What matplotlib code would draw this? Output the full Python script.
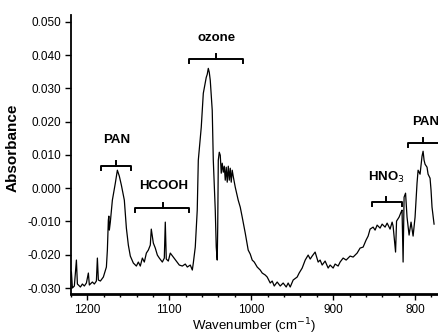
import numpy as np
import matplotlib
matplotlib.use("Agg")
import matplotlib.pyplot as plt
from matplotlib.ticker import MultipleLocator

plt.rcParams['font.family'] = ['Liberation Sans Narrow', 'Liberation Sans', 'DejaVu Sans']

# FTIR spectrum (wavenumber cm-1, absorbance)
wavenumber = [
    1219.5, 1218.3, 1215.9, 1213.4, 1212.2, 1208.5, 1206.1, 1203.7, 1201.2, 1198.8,
    1197.6, 1193.9, 1191.5, 1189.0, 1187.8, 1186.6, 1184.1, 1180.5, 1176.8, 1175.6,
    1174.4, 1173.8, 1173.2, 1172.0, 1169.5, 1165.9, 1163.4, 1161.0, 1158.5, 1154.9,
    1152.4, 1150.0, 1147.6, 1143.9, 1140.2, 1137.8, 1135.4, 1132.9, 1130.5, 1128.0,
    1125.6, 1123.2, 1122.0, 1119.5, 1117.1, 1114.6, 1112.2, 1108.5, 1106.1, 1104.9,
    1103.7, 1101.2, 1098.8, 1095.1, 1091.5, 1087.8, 1084.1, 1080.5, 1078.0, 1074.4,
    1071.9, 1070.7, 1068.3, 1065.9, 1064.6, 1061.0, 1058.5, 1054.9, 1053.7, 1052.4,
    1051.2, 1050.0, 1047.6, 1046.3, 1043.9, 1042.7, 1041.5, 1040.9, 1040.2, 1039.0,
    1037.8, 1036.6, 1035.4, 1034.1, 1032.9, 1031.7, 1030.5, 1029.3, 1028.0, 1026.8,
    1025.6, 1024.4, 1023.2, 1022.0, 1019.5, 1015.9, 1013.4, 1011.0, 1007.3, 1003.7,
    1001.2, 998.8, 996.3, 992.7, 989.0, 986.6, 982.9, 980.5, 976.8, 974.4,
    971.9, 968.3, 964.6, 961.0, 957.3, 954.9, 952.4, 948.8, 943.9, 941.5,
    937.8, 934.1, 930.5, 928.0, 925.6, 922.0, 918.3, 915.9, 913.4, 909.8,
    906.1, 903.7, 900.0, 897.6, 893.9, 891.5, 887.8, 884.1, 879.3, 875.6,
    870.7, 867.1, 863.4, 859.8, 857.3, 854.9, 851.2, 848.8, 846.3, 842.7,
    840.2, 836.6, 834.1, 830.5, 828.0, 826.8, 823.8, 822.6, 819.5, 817.1,
    815.9, 814.6, 813.4, 811.6, 809.8, 807.3, 804.9, 802.4, 800.0, 797.6,
    796.3, 793.9, 791.5, 790.2, 789.0, 787.8, 785.4, 784.1, 781.7, 780.5,
    779.3, 776.8,
]
absorbance = [
    -0.0252, -0.0300, -0.0294, -0.0216, -0.0288, -0.0297, -0.0288, -0.0294, -0.0285, -0.0255,
    -0.0291, -0.0282, -0.0288, -0.0279, -0.0210, -0.0276, -0.0279, -0.0267, -0.0237, -0.0186,
    -0.0096, -0.0084, -0.0126, -0.0102, -0.0036, 0.0015, 0.0054, 0.0036, 0.0009, -0.0036,
    -0.0120, -0.0171, -0.0204, -0.0225, -0.0234, -0.0222, -0.0234, -0.0210, -0.0222, -0.0195,
    -0.0186, -0.0171, -0.0123, -0.0165, -0.0180, -0.0201, -0.0210, -0.0222, -0.0210, -0.0102,
    -0.0213, -0.0219, -0.0195, -0.0207, -0.0219, -0.0231, -0.0234, -0.0228, -0.0237, -0.0231,
    -0.0246, -0.0225, -0.0177, -0.0066, 0.0084, 0.0183, 0.0285, 0.0333, 0.0342, 0.0360,
    0.0348, 0.0324, 0.0234, 0.0084, -0.0066, -0.0177, -0.0216, -0.0117, 0.0084, 0.0108,
    0.0099, 0.0045, 0.0075, 0.0048, 0.0066, 0.0024, 0.0063, 0.0018, 0.0066, 0.0024,
    0.0060, 0.0018, 0.0054, 0.0036, 0.0003, -0.0036, -0.0057, -0.0087, -0.0135, -0.0186,
    -0.0198, -0.0216, -0.0222, -0.0237, -0.0246, -0.0255, -0.0261, -0.0267, -0.0285, -0.0279,
    -0.0294, -0.0282, -0.0294, -0.0285, -0.0297, -0.0285, -0.0297, -0.0276, -0.0267, -0.0255,
    -0.0240, -0.0216, -0.0201, -0.0213, -0.0204, -0.0192, -0.0222, -0.0216, -0.0231, -0.0219,
    -0.0240, -0.0231, -0.0240, -0.0228, -0.0234, -0.0222, -0.0210, -0.0216, -0.0204, -0.0207,
    -0.0195, -0.0180, -0.0177, -0.0156, -0.0144, -0.0123, -0.0117, -0.0126, -0.0111, -0.0120,
    -0.0108, -0.0117, -0.0105, -0.0123, -0.0102, -0.0114, -0.0192, -0.0099, -0.0087, -0.0072,
    -0.0066, -0.0222, -0.0027, -0.0015, -0.0087, -0.0141, -0.0102, -0.0144, -0.0087, 0.0015,
    0.0054, 0.0042, 0.0096, 0.0111, 0.0084, 0.0072, 0.0063, 0.0042, 0.0030, -0.0006,
    -0.0057, -0.0108,
]

# band assignments: label, bracket left/right, bracket level, label position
band_labels = ['PAN', 'HCOOH', 'ozone', r'HNO$_3$', 'PAN']
band_left = [1182.9, 1141.5, 1075.6, 852.4, 808.5]
band_right = [1146.3, 1075.6, 1009.8, 815.9, 766.0]
band_level = [0.0066, -0.0060, 0.0387, -0.0042, 0.0135]
band_text_y = [0.0144, 0.0006, 0.0450, 0.0033, 0.0198]
band_text_x = [1164.6, 1107.3, 1042.7, 835.4, 787.5]
band_tick_x = [1164.6, 1107.3, 1042.7, 835.4, 790.2]

fig = plt.figure(figsize=(4.38, 3.36), dpi=100)
ax = fig.add_axes([0.1621, 0.125, 0.8379, 0.830])

ax.plot(wavenumber, absorbance, color='black', lw=0.9)

for lab, x0, x1, yb, yt, xc, xt in zip(band_labels, band_left, band_right,
                                        band_level, band_text_y, band_text_x,
                                        band_tick_x):
    drop = 0.0012
    ax.plot([x0, x0, x1, x1], [yb - drop, yb, yb, yb - drop],
            color='black', lw=1.4, clip_on=False)
    ax.plot([xt, xt], [yb, yb + 0.0016], color='black', lw=1.4, clip_on=False)
    ax.text(xc, yt, lab, ha='center', va='center', fontsize=9.5,
            fontweight='bold', clip_on=False)

ax.set_xlim(1220, 772)
ax.set_ylim(-0.0318, 0.052)
ax.xaxis.set_major_locator(MultipleLocator(100))
ax.xaxis.set_minor_locator(MultipleLocator(20))
ax.yaxis.set_major_locator(MultipleLocator(0.01))
ax.yaxis.set_major_formatter(plt.FormatStrFormatter('%.3f'))

ax.spines['top'].set_visible(False)
ax.spines['right'].set_visible(False)
ax.spines['left'].set_linewidth(1.3)
ax.spines['bottom'].set_linewidth(2.0)
ax.tick_params(axis='both', which='major', direction='out', length=4,
               width=1, labelsize=8.5, pad=3)
ax.tick_params(axis='x', which='minor', direction='out', length=2.5, width=1)

ax.set_ylabel('Absorbance', fontsize=11, fontweight='bold')
ax.yaxis.set_label_coords(-0.139, 0.523)
ax.set_xlabel(r'Wavenumber (cm$^{-1}$)', fontsize=9.5)
ax.xaxis.set_label_coords(0.5, -0.082)

fig.savefig('out.png', dpi=100)
